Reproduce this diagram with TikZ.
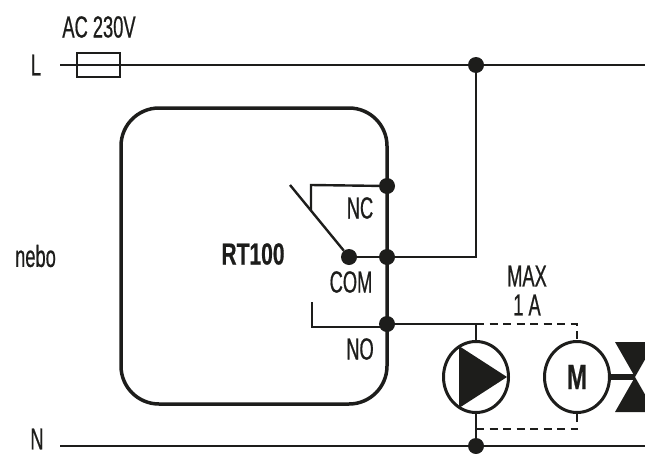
\documentclass[tikz,border=0pt]{standalone}
\usepackage{fontspec}
\setmainfont[FakeStretch=0.6,FakeBold=0.6]{Liberation Sans}
\newfontfamily\boldlabel[FakeStretch=0.69,FakeBold=0.4]{Liberation Sans Bold}
\usepackage{xcolor}
\definecolor{ink}{HTML}{1D1D1B}
\usetikzlibrary{calc,shapes,positioning}

\begin{document}
\begin{tikzpicture}[x=1pt,y=-1pt]
      \tikzstyle{wire}=[draw=ink,line width=2.4pt]
      \tikzstyle{dot}=[circle,fill=ink,inner sep=0pt,minimum size=16pt]
      \tikzstyle{label}=[text=ink,inner sep=0pt,font=\fontsize{30.5}{32}\selectfont]
      \tikzstyle{boldtext}=[label,font=\fontsize{30.5}{32}\boldlabel]
      \tikzstyle{device}=[ellipse,draw=ink,line width=3pt,fill=white,inner sep=0pt,minimum width=65pt,minimum height=71pt]
      \useasboundingbox (0,0) rectangle (645,453);
      % supply lines
      \coordinate (Lstart) at (60,65);
      \coordinate (Lend) at (645,65);
      \coordinate (Nstart) at (60,446);
      \coordinate (Nend) at (645,446);
      \node[label] (L) at (36,65) {L};
      \node[label] (N) at (37,439) {N};
      \node[label] (ac) at (99,27) {AC 230V};
      \node[label] (nebo) at (35.5,256) {nebo};
      \draw[wire] (Lstart) -- (Lend);
      \draw[wire] (Nstart) -- (Nend);
      \node[draw=ink,line width=1.8pt,inner sep=0pt,minimum width=43pt,minimum height=24pt] (fuse) at (98.5,65) {};
      % thermostat
      \node[draw=ink,line width=3.5pt,rounded corners=38pt,inner sep=0pt,minimum width=266pt,minimum height=296pt] (box) at (254,256) {};
      \node[boldtext] (rt) at (253,254) {RT100};
      \node[dot] (nc) at (387,186) {};
      \node[dot] (com) at (387,257) {};
      \node[dot] (no) at (387,324) {};
      \node[dot] (pole) at (349,257) {};
      \node[dot] (top) at (476,65) {};
      \node[dot] (bottom) at (476,446) {};
      \node[label] (nclabel) at (360,208) {NC};
      \node[label] (comlabel) at (351,282) {COM};
      \node[label] (nolabel) at (360,349) {NO};
      \coordinate (ncleft) at (311,185);
      \coordinate (ncend) at (311,211);
      \coordinate (noleft) at (312,327);
      \coordinate (noend) at (312,302);
      \coordinate (lever) at (290,185);
      \draw[wire] (ncend) -- (ncleft) -- (nc);
      \draw[wire] (noend) -- (noleft) -- (no.south west |- noleft);
      \draw[wire] (lever) -- (pole);
      \draw[wire] (pole) -- (com);
      \draw[wire] (com) -| (top);
      % load
      \node[device] (pump) at (476,377) {};
      \node[device] (motor) at (577,377) {};
      \node[boldtext,font=\fontsize{35}{36}\boldlabel] (m) at (577,377) {M};
      \fill[ink] (459,346) coordinate (a) -- (507,377) coordinate (b) -- (459,408) coordinate (c) -- cycle;
      \node[label] (max) at (527,276) {MAX};
      \node[label] (amp) at (527,305) {1 A};
      \coordinate (split) at (476,324);
      \coordinate (dashtop) at (577,324);
      \coordinate (join) at (476,429);
      \coordinate (dashbot) at (577,429);
      \draw[wire] (no) -- (split) -- (pump);
      \draw[wire] (pump) -- (bottom);
      \draw[wire,dashed,dash pattern=on 8pt off 5.5pt] (split) -- (dashtop) -- (motor);
      \draw[wire,dashed,dash pattern=on 8pt off 5.5pt] (join) -- (dashbot) -- (motor);
      % valve
      \coordinate (apex) at (635,377);
      \draw[draw=ink,line width=5.5pt] (motor) -- (apex);
      \fill[ink] (apex) -- (615,342) -- (655,342) -- cycle;
      \fill[ink] (apex) -- (615,412) -- (655,412) -- cycle;
    \end{tikzpicture}
\end{document}
